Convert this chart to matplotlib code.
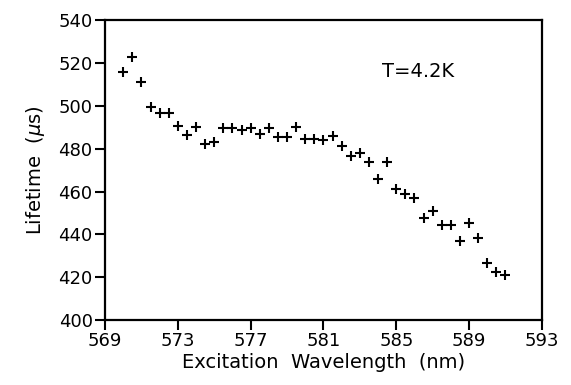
import matplotlib
matplotlib.use("Agg")
import matplotlib.pyplot as plt

# excitation wavelength (nm), 0.5 nm steps
wavelength = [570.0, 570.5, 571.0, 571.5, 572.0, 572.5, 573.0, 573.5, 574.0, 574.5,
              575.0, 575.5, 576.0, 576.5, 577.0, 577.5, 578.0, 578.5, 579.0, 579.5,
              580.0, 580.5, 581.0, 581.5, 582.0, 582.5, 583.0, 583.5, 584.0, 584.5,
              585.0, 585.5, 586.0, 586.5, 587.0, 587.5, 588.0, 588.5, 589.0, 589.5,
              590.0, 590.5, 591.0]
# lifetime (us)
lifetime = [515.7, 523.0, 511.3, 499.6, 496.5, 496.5, 490.6, 486.3, 490.0, 482.1,
            483.2, 489.5, 489.5, 489.0, 489.5, 486.7, 489.5, 485.5, 485.3, 490.0,
            484.5, 484.5, 484.0, 486.0, 481.2, 476.5, 478.1, 473.8, 466.1, 473.8,
            461.4, 459.0, 457.2, 447.6, 450.7, 444.6, 444.6, 437.1, 445.2, 438.4,
            426.7, 422.3, 421.1]

x_ticks = [569, 573, 577, 581, 585, 589, 593]
y_ticks = [400, 420, 440, 460, 480, 500, 520, 540]

plt.rcParams["font.family"] = ["DejaVu Sans"]

fig = plt.figure(figsize=(5.71, 3.85), dpi=100)
ax = fig.add_axes([0.184, 0.169, 0.765, 0.778])

ax.plot(wavelength, lifetime, linestyle="none", marker="+", color="black",
        markersize=7.5, markeredgewidth=1.5)

ax.set_xlim(569, 593)
ax.set_ylim(400, 540)
ax.set_xticks(x_ticks)
ax.set_yticks(y_ticks)
ax.tick_params(direction="out", length=7, width=1.5, labelsize=13,
               top=False, right=False, pad=2)
for s in ax.spines.values():
    s.set_linewidth(1.6)

ax.set_xlabel("Excitation  Wavelength  (nm)", fontsize=14, labelpad=2)
ax.set_ylabel("Lifetime  ($\\mu$s)", fontsize=14, labelpad=8)
ax.text(584.2, 515.9, "T=4.2K", fontsize=14, va="center", ha="left")

fig.savefig("out.png", dpi=100)
